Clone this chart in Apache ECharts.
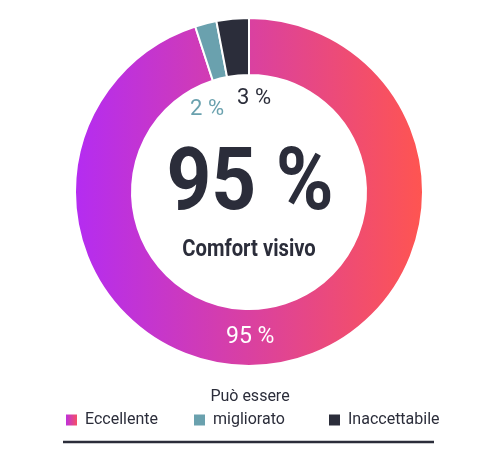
<!DOCTYPE html>
<html>
<head>
<meta charset="utf-8">
<script src="https://cdn.jsdelivr.net/npm/echarts@6/dist/echarts.min.js"></script>
<style>html,body{margin:0;padding:0;background:#fff;}#c{width:500px;height:457px;}</style>
</head>
<body>
<div id="c"></div>
<script>
const categories = ['Eccellente', 'migliorato', 'Inaccettabile'];
const values = [95, 2, 3];
const legendTitle = 'Può essere';
const centerLabel = 'Comfort visivo';

const FONT = 'Roboto, "Liberation Sans", sans-serif';
const DARK = '#2b2d3a';
const colors = [
  { type: 'linear', x: 0, y: 0, x2: 1, y2: 0, colorStops: [
    { offset: 0, color: '#b42cf2' }, { offset: 1, color: '#ff5550' } ] },
  '#6aa1ae',
  DARK
];
const labelStyles = [
  { color: '#ffffff', fontSize: 23, offset: [-22, -1] },
  { color: '#6aa1ae', fontSize: 22, offset: [-5, 61] },
  { color: DARK, fontSize: 22, offset: [19, 54] }
];

const data = categories.map((name, i) => ({
  name: name,
  value: values[i],
  itemStyle: { color: colors[i] },
  label: labelStyles[i]
}));

const chart = echarts.init(document.getElementById('c'));
chart.setOption({
  animation: false,
  legend: categories.map((name, i) => ({
    data: [name],
    left: [64, 192, 327][i],
    top: 412,
    padding: 0,
    itemWidth: 13,
    itemHeight: 13,
    icon: 'rect',
    selectedMode: false,
    textStyle: { fontFamily: FONT, fontSize: 16, color: DARK, padding: [0, 0, 0, 2] }
  })),
  series: [{
    type: 'pie',
    center: [249, 192],
    radius: [117, 174],
    startAngle: 90,
    clockwise: true,
    avoidLabelOverlap: false,
    emphasis: { disabled: true },
    itemStyle: { borderColor: '#ffffff', borderWidth: 2 },
    label: {
      show: true,
      position: 'inside',
      fontFamily: FONT,
      formatter: p => p.value + ' %'
    },
    labelLine: { show: false },
    data: data
  }],
  graphic: [
    { type: 'text', x: 250, y: 187, scaleX: 0.89, style: { text: values[0] + ' %', font: 'bold 88px ' + FONT, fill: DARK, textAlign: 'center', textVerticalAlign: 'middle' } },
    { type: 'text', x: 249, y: 250, scaleX: 0.88, style: { text: centerLabel, font: 'bold 23px ' + FONT, fill: DARK, textAlign: 'center', textVerticalAlign: 'middle' } },
    { type: 'text', x: 250, y: 397, style: { text: legendTitle, font: '16px ' + FONT, fill: DARK, textAlign: 'center', textVerticalAlign: 'middle' } },
    { type: 'line', shape: { x1: 63, y1: 442, x2: 434, y2: 442 }, style: { stroke: DARK, lineWidth: 2.5 } }
  ]
});
</script>
</body>
</html>
